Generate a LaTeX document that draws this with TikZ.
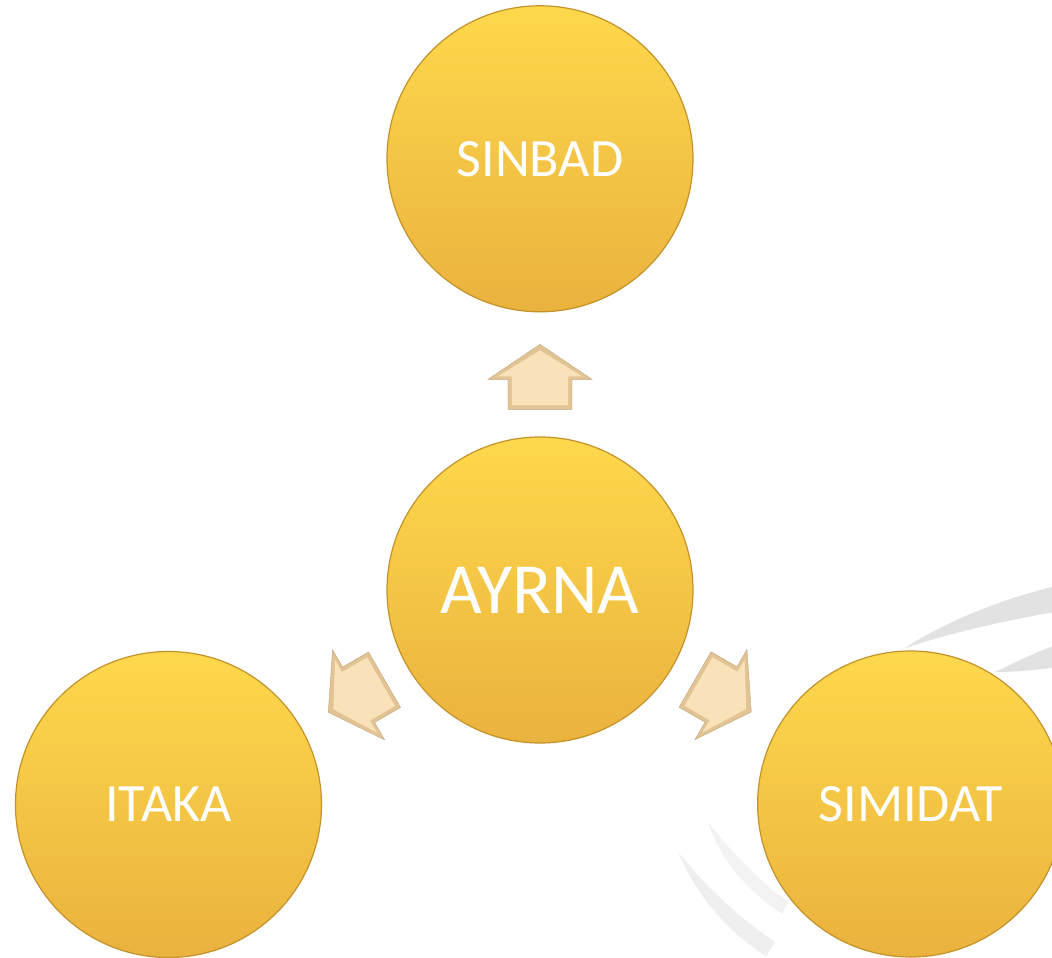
\documentclass[tikz,border=0pt]{standalone}
\usepackage{fontspec}
\newfontfamily\ballfont{Carlito}
\usetikzlibrary{calc,positioning}
\definecolor{balltop}{RGB}{254,216,76}
\definecolor{ballbot}{RGB}{234,178,62}
\definecolor{ballrim}{RGB}{196,146,42}
\definecolor{arrowface}{RGB}{249,225,186}
\definecolor{arrowedge}{RGB}{226,196,148}
\definecolor{swoosh}{RGB}{226,226,226}
\tikzset{
    x=1pt, y=1pt,
    ball/.style = {circle, minimum size=306pt, inner sep=0pt, top color=balltop,
        bottom color=ballbot, draw=ballrim, line width=1.2pt, text=white,
        font=\ballfont\fontsize{54}{60}\selectfont},
    hub/.style = {ball, font=\ballfont\fontsize{72}{80}\selectfont},
    band/.style = {fill=swoosh, draw=none},
    blockarrow/.pic = {
        \path[fill=arrowedge, draw=arrowedge!85!black, line width=0.4pt]
            (0,30) -- (52,-5) -- (32,-5) -- (32,-35) -- (-32,-35) -- (-32,-5) -- (-52,-5) -- cycle;
        \path[fill=arrowface]
            (0,24) -- (42,-2) -- (28,-2) -- (28,-31) -- (-28,-31) -- (-28,-2) -- (-42,-2) -- cycle;
    }
}

\begin{document}
\begin{tikzpicture}
  \useasboundingbox (-540,-368) rectangle (512,590);
  \fill[white] (-540,-368) rectangle (512,590);

  % swoosh behind the right ball
  \path[band] (365,-58) .. controls (400,-35) and (460,-8) .. (525,6)
    -- (525,-20) .. controls (470,-30) and (420,-40) .. cycle;
  \path[band] (455,-82) .. controls (480,-70) and (500,-60) .. (525,-52)
    -- (525,-76) .. controls (505,-79) and (480,-82) .. cycle;
  \path[band, fill=swoosh!55] (138,-262) .. controls (165,-295) and (195,-325) .. (235,-352)
    -- (226,-366) .. controls (188,-342) and (158,-308) .. cycle;
  \path[band, fill=swoosh!40] (168,-232) .. controls (192,-262) and (215,-288) .. (248,-312)
    -- (242,-324) .. controls (210,-302) and (182,-274) .. cycle;

  \node[hub] (1) at (0,0) {AYRNA};
  \node[ball] (2) [above=124pt of 1] {SINBAD};
  \node[ball] (3) at (210:429) {ITAKA};
  \node[ball] (4) at (-30:428) {SIMIDAT};

  \pic at ($(1)!0.5!(2)$) {blockarrow};
  \pic[rotate=120] at ($(1)!0.5!(3)$) {blockarrow};
  \pic[rotate=-120] at ($(1)!0.5!(4)$) {blockarrow};
\end{tikzpicture}
\end{document}
